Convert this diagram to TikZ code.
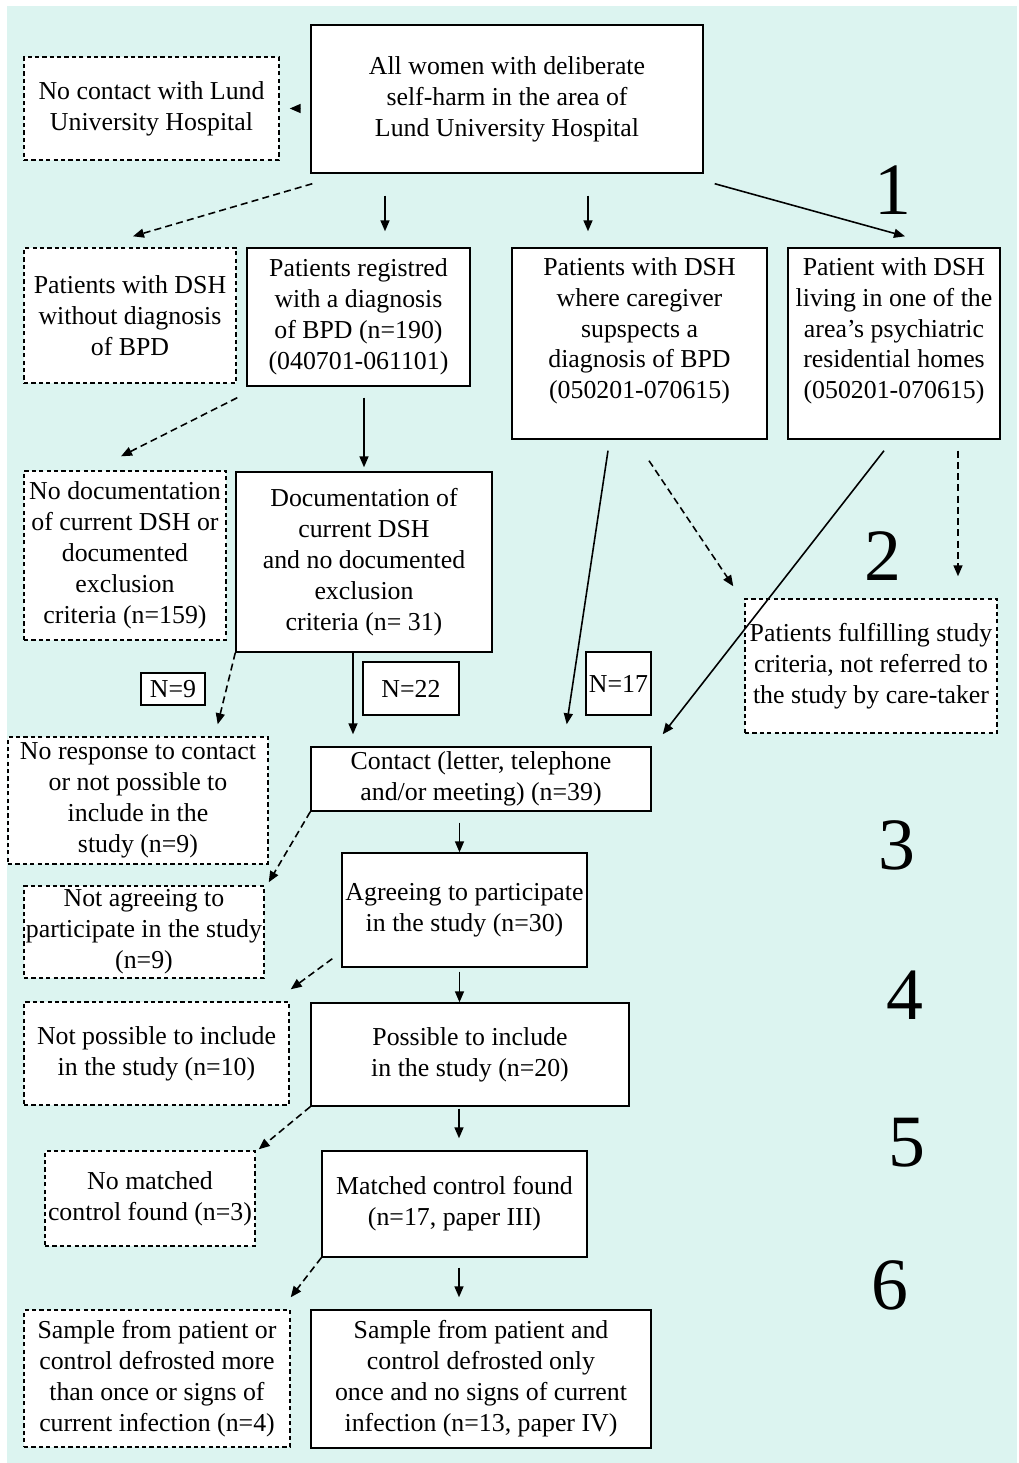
\documentclass[tikz,border=0pt]{standalone}
\usepackage{fontspec}
\setmainfont{Liberation Serif}
\usetikzlibrary{arrows.meta,calc}

\definecolor{bgteal}{RGB}{220,244,240}

\begin{document}
\begin{tikzpicture}[
  font=\fontsize{14.7}{17.6}\selectfont,
  box/.style={draw, line width=0.8pt, fill=white, align=center, inner sep=1pt},
  dbox/.style={box, dash pattern=on 2.4pt off 1.8pt},
  nbox/.style={draw, line width=0.8pt, fill=white, inner sep=1pt},
  arr/.style={line width=0.9pt, -{Triangle[length=0.22cm,width=0.18cm]}},
  darr/.style={arr, dash pattern=on 4pt off 2.4pt},
  bignum/.style={font=\fontsize{42}{50}\selectfont, inner sep=0pt}
]

% Page and background
\useasboundingbox (0,0) rectangle (20.38,-29.26);
\fill[bgteal] (0.14,-0.12) rectangle (20.34,-29.26);

% First row
\node[box, minimum width=7.84cm, minimum height=2.96cm] (top) at (10.14,-1.98)
  {All women with deliberate\\self-harm in the area of\\Lund University Hospital};
\node[dbox, minimum width=5.10cm, minimum height=2.06cm] (nocontact) at (3.03,-2.17)
  {No contact with Lund\\University Hospital};

% Second row
\node[dbox, minimum width=4.24cm, minimum height=2.70cm] (nodiag) at (2.60,-6.31)
  {Patients with DSH\\without diagnosis\\of BPD};
\node[box, minimum width=4.46cm, minimum height=2.76cm] (reg) at (7.17,-6.34)
  {Patients registred\\with a diagnosis\\of BPD (n=190)\\(040701-061101)};
\node[box, minimum width=5.10cm, minimum height=3.82cm] (care) at (12.79,-6.87)
  {Patients with DSH\\where caregiver\\supspects a\\diagnosis of BPD\\(050201-070615)\\};
\node[box, minimum width=4.24cm, minimum height=3.82cm] (home) at (17.88,-6.87)
  {Patient with DSH\\living in one of the\\area’s psychiatric\\residential homes\\(050201-070615)\\};

% Third row
\node[dbox, minimum width=4.04cm, minimum height=3.38cm] (nodoc) at (2.50,-11.11)
  {No documentation\\of current DSH or\\documented\\exclusion\\criteria (n=159)};
\node[box, minimum width=5.12cm, minimum height=3.60cm] (doc) at (7.28,-11.24)
  {Documentation of\\current DSH\\and no documented\\exclusion\\criteria (n= 31)};
\node[dbox, minimum width=5.04cm, minimum height=2.68cm] (fulfil) at (17.42,-13.32)
  {Patients fulfilling study\\criteria, not referred to\\the study by care-taker};

% Counts
\node[nbox, minimum width=1.28cm, minimum height=0.64cm] (nine) at (3.46,-13.78) {N=9};
\node[nbox, minimum width=1.92cm, minimum height=1.06cm] (twtwo) at (8.22,-13.77) {N=22};
\node[nbox, minimum width=1.30cm, minimum height=1.26cm] (svtn) at (12.37,-13.67) {N=17};

% Main column
\node[dbox, minimum width=5.20cm, minimum height=2.54cm] (noresp) at (2.76,-16.01)
  {No response to contact\\or not possible to\\include in the\\study (n=9)};
\node[box, minimum width=6.80cm, minimum height=1.28cm] (contact) at (9.62,-15.58)
  {Contact (letter, telephone\\and/or meeting) (n=39)};
\node[dbox, minimum width=4.80cm, minimum height=1.84cm, inner xsep=0pt] (notagree) at (2.88,-18.64)
  {Not agreeing to\\participate in the study\\(n=9)};
\node[box, minimum width=4.90cm, minimum height=2.28cm, inner xsep=0pt] (agree) at (9.29,-18.20)
  {Agreeing to participate\\in the study (n=30)};
\node[dbox, minimum width=5.30cm, minimum height=2.06cm] (notposs) at (3.13,-21.07)
  {Not possible to include\\in the study (n=10)};
\node[box, minimum width=6.36cm, minimum height=2.06cm] (poss) at (9.40,-21.09)
  {Possible to include\\in the study (n=20)};
\node[dbox, minimum width=4.20cm, minimum height=1.90cm, inner xsep=0pt] (nomatch) at (3.00,-23.97)
  {No matched\\control found (n=3)};
\node[box, minimum width=5.30cm, minimum height=2.12cm] (match) at (9.09,-24.08)
  {Matched control found\\(n=17, paper III)};
\node[dbox, minimum width=5.32cm, minimum height=2.74cm] (samplebad) at (3.14,-27.57)
  {Sample from patient or\\control defrosted more\\than once or signs of\\current infection (n=4)};
\node[box, minimum width=6.80cm, minimum height=2.76cm] (samplegood) at (9.62,-27.58)
  {Sample from patient and\\control defrosted only\\once and no signs of current\\infection (n=13, paper IV)};

% Step numbers
\node[bignum] (sone) at (17.86,-3.80) {1};
\node[bignum] (stwo) at (17.66,-11.12) {2};
\node[bignum] (sthree) at (17.94,-16.90) {3};
\node[bignum] (sfour) at (18.10,-19.90) {4};
\node[bignum] (sfive) at (18.14,-22.86) {5};
\node[bignum] (ssix) at (17.80,-25.70) {6};

% From the top box
\draw[arr, shorten <=0.2cm, shorten >=0.2cm] (top.west |- nocontact) -- (nocontact.east);
\draw[darr] ([shift={(0.04,-0.2)}]top.south west) -- ([shift={(0.06,0.22)}]nodiag.north);
\draw[arr, shorten <=0.44cm, shorten >=0.32cm] ([xshift=0.53cm]reg.north |- top.south) -- ([xshift=0.53cm]reg.north);
\draw[arr, shorten <=0.44cm, shorten >=0.32cm] ([xshift=-1.03cm]care.north |- top.south) -- ([xshift=-1.03cm]care.north);
\draw[arr] ([shift={(0.22,-0.2)}]top.south east) -- ([shift={(0.22,0.22)}]home.north);

% Second row to third row
\draw[darr] ([shift={(-0.18,-0.22)}]reg.south west) -- ([shift={(-0.08,0.28)}]nodoc.north);
\draw[arr, shorten <=0.22cm, shorten >=0.08cm] (doc.north |- reg.south) -- (doc.north);
\draw[arr] ([shift={(-0.63,-0.22)}]care.south) -- ([shift={(-1.7,0.44)}]contact.north east);
\draw[darr] ([shift={(0.19,-0.42)}]care.south) -- ([shift={(-0.22,0.24)}]fulfil.north west);
\draw[arr] ([shift={(-0.2,-0.22)}]home.south) -- ([shift={(0.22,0.24)}]contact.north east);
\draw[darr, shorten <=0.22cm, shorten >=0.44cm] ([xshift=1.28cm]home.south) -- ([xshift=1.28cm]home.south |- fulfil.north);

% Documentation box
\draw[darr] (doc.south west) -- ([shift={(-1.02,0.24)}]noresp.north east);
\draw[arr, shorten >=0.24cm] ([xshift=-2.56cm]contact.north |- doc.south) -- ([xshift=-2.56cm]contact.north);

% Contact and below
\draw[darr] (contact.south west) -- ([shift={(0.08,0.06)}]notagree.north east);
\draw[arr, shorten <=0.22cm] ([xshift=-0.1cm]agree.north |- contact.south) -- ([xshift=-0.1cm]agree.north);
\draw[darr] ([shift={(-0.18,0.18)}]agree.south west) -- ([shift={(0.02,0.24)}]notposs.north east);
\draw[arr, shorten <=0.08cm] ([xshift=-0.1cm]agree.south) -- ([xshift=-0.1cm]agree.south |- poss.north);
\draw[darr] (poss.south west) -- ([shift={(0.06,0.02)}]nomatch.north east);
\draw[arr, shorten <=0.04cm, shorten >=0.24cm] ([xshift=0.09cm]match.north |- poss.south) -- ([xshift=0.09cm]match.north);
\draw[darr] (match.south west) -- ([shift={(0,0.24)}]samplebad.north east);
\draw[arr, shorten <=0.2cm, shorten >=0.24cm] ([xshift=0.09cm]match.south) -- ([xshift=0.09cm]match.south |- samplegood.north);

\end{tikzpicture}
\end{document}
